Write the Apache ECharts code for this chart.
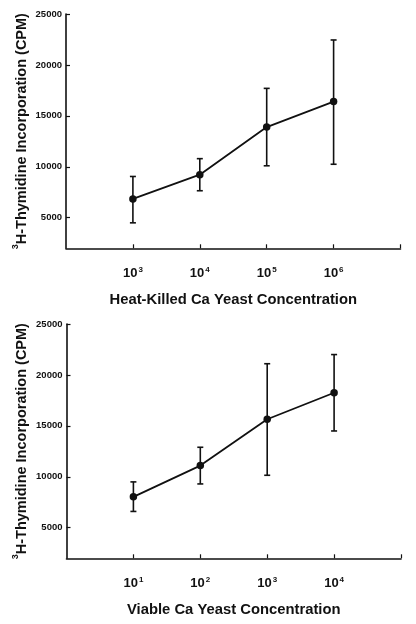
<!DOCTYPE html>
<html>
<head>
<meta charset="utf-8">
<script src="https://cdn.jsdelivr.net/npm/echarts@6/dist/echarts.min.js"></script>
<style>
html,body{margin:0;padding:0;background:#fff;}
#chart{width:416px;height:624px;}
</style>
</head>
<body>
<div id="chart"></div>
<script>
// ---- data ----
var topExponents = ['3', '4', '5', '6'];
var topMean = [6850, 9230, 13900, 16400];
var topLow = [4500, 7650, 10100, 10250];
var topHigh = [9050, 10800, 17700, 22450];
var topXName = 'Heat-Killed Ca Yeast Concentration';

var botExponents = ['1', '2', '3', '4'];
var botMean = [8030, 11100, 15650, 18250];
var botLow = [6600, 9300, 10150, 14500];
var botHigh = [9500, 12900, 21100, 22000];
var botXName = 'Viable Ca Yeast Concentration';

var yTickLabels = [5000, 10000, 15000, 20000, 25000];
var yName = 'H-Thymidine Incorporation (CPM)';
var yNameSup = '3';

// ---- chart ----
var FONT = '"Liberation Sans", Arial, Helvetica, sans-serif';
var chart = echarts.init(document.getElementById('chart'), null, {renderer: 'canvas'});

function pts(mean) { return mean.map(function (v, i) { return [i + 1, v]; }); }
function errs(lo, hi) { return lo.map(function (v, i) { return [i + 1, v, hi[i]]; }); }

function xAxisCfg(gi, exps, name) {
  return {
    type: 'value', gridIndex: gi, min: 0, max: 5, interval: 1,
    name: name, nameLocation: 'middle', nameGap: 44,
    nameTextStyle: {fontFamily: FONT, fontWeight: 'bold', fontSize: 14.8, color: '#111'},
    axisLine: {lineStyle: {color: '#111', width: 1.6}},
    axisTick: {inside: true, length: 4, lineStyle: {color: '#111', width: 1.2}, customValues: [1, 2, 3, 4, 5]},
    axisLabel: {
      customValues: [1, 2, 3, 4], margin: 17,
      formatter: function (v) { return '{b|10}{s|' + exps[Math.round(v) - 1] + '}'; },
      rich: {
        b: {fontFamily: FONT, fontWeight: 'bold', fontSize: 13, color: '#111', lineHeight: 15, verticalAlign: 'bottom'},
        s: {fontFamily: FONT, fontWeight: 'bold', fontSize: 8, color: '#111', verticalAlign: 'top', lineHeight: 8, padding: [0, 0, 0, 1]}
      }
    },
    splitLine: {show: false}
  };
}
function yAxisCfg(gi) {
  return {
    type: 'value', gridIndex: gi, min: 2000, max: 25000,
    name: '{s|' + yNameSup + '}{n|' + yName + '}', nameLocation: 'middle', nameGap: 37, nameRotate: 90,
    nameMoveOverlap: false,
    nameTextStyle: {
      rich: {
        n: {fontFamily: FONT, fontWeight: 'bold', fontSize: 14.5, color: '#111', lineHeight: 18, verticalAlign: 'bottom'},
        s: {fontFamily: FONT, fontWeight: 'bold', fontSize: 9, color: '#111', verticalAlign: 'top', lineHeight: 9}
      }
    },
    axisLine: {show: true, lineStyle: {color: '#111', width: 1.6}},
    axisTick: {show: true, inside: true, length: 4, lineStyle: {color: '#111', width: 1.2}, customValues: yTickLabels},
    axisLabel: {customValues: yTickLabels, formatter: function (v) { return String(v); },
      fontFamily: FONT, fontWeight: 'bold', fontSize: 9.5, color: '#111', margin: 4},
    splitLine: {show: false}
  };
}
function errSeries(xi, yi, data) {
  return {
    type: 'custom', xAxisIndex: xi, yAxisIndex: yi, data: data, z: 3,
    renderItem: function (params, api) {
      var x = api.value(0);
      var lo = api.coord([x, api.value(1)]);
      var hi = api.coord([x, api.value(2)]);
      var w = 3;
      var st = {stroke: '#111', lineWidth: 1.6};
      return {type: 'group', children: [
        {type: 'line', shape: {x1: lo[0], y1: lo[1], x2: hi[0], y2: hi[1]}, style: st},
        {type: 'line', shape: {x1: lo[0] - w, y1: lo[1], x2: lo[0] + w, y2: lo[1]}, style: st},
        {type: 'line', shape: {x1: hi[0] - w, y1: hi[1], x2: hi[0] + w, y2: hi[1]}, style: st}
      ]};
    }
  };
}
function lineSeries(xi, yi, data) {
  return {
    type: 'line', xAxisIndex: xi, yAxisIndex: yi, data: data, z: 4,
    symbol: 'circle', symbolSize: 7.5, showSymbol: true,
    itemStyle: {color: '#111'}, lineStyle: {color: '#111', width: 1.8},
    animation: false
  };
}

chart.setOption({
  animation: false,
  backgroundColor: '#fff',
  grid: [
    {left: 66, top: 14, width: 334.5, height: 234.3},
    {left: 66.5, top: 324, width: 334.5, height: 234.3}
  ],
  xAxis: [xAxisCfg(0, topExponents, topXName), xAxisCfg(1, botExponents, botXName)],
  yAxis: [yAxisCfg(0), yAxisCfg(1)],
  series: [
    errSeries(0, 0, errs(topLow, topHigh)),
    lineSeries(0, 0, pts(topMean)),
    errSeries(1, 1, errs(botLow, botHigh)),
    lineSeries(1, 1, pts(botMean))
  ]
});
</script>
</body>
</html>
